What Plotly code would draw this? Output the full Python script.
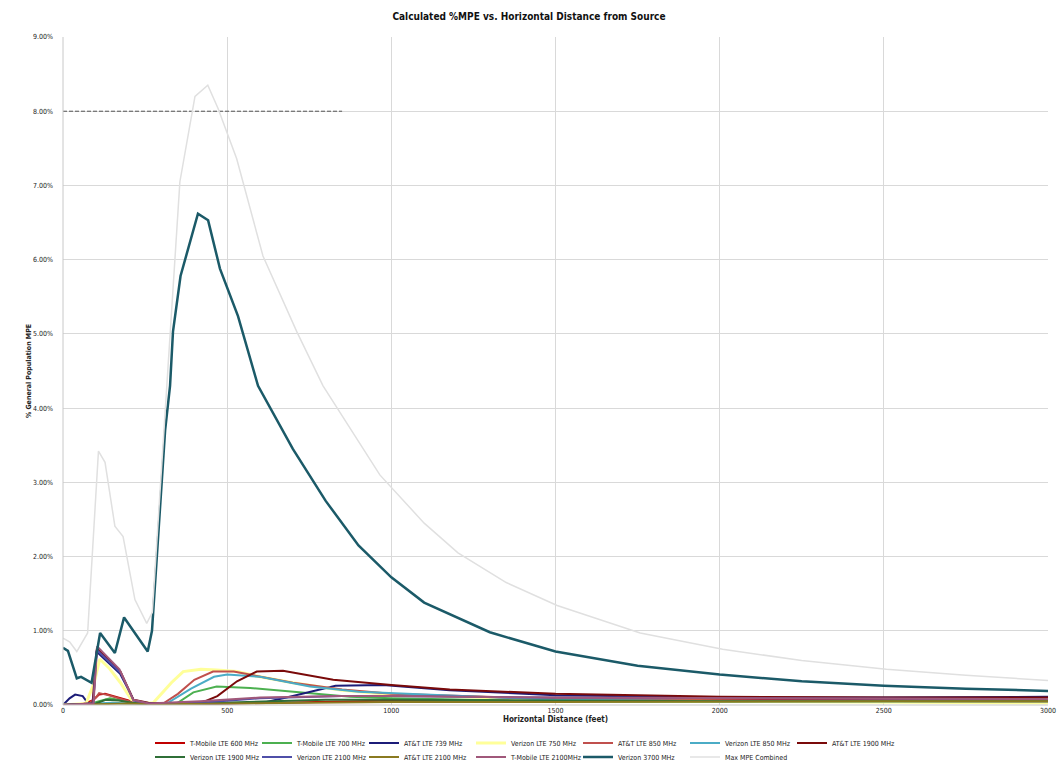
import plotly.graph_objects as go

# ---------------- data (distance in feet, % of general population MPE) ----------------
series_names = [
    "T-Mobile LTE 600 MHz", "T-Mobile LTE 700 MHz", "AT&T LTE 739 MHz", "Verizon LTE 750 MHz",
    "AT&T LTE 850 MHz", "Verizon LTE 850 MHz", "AT&T LTE 1900 MHz",
    "Verizon LTE 1900 MHz", "Verizon LTE 2100 MHz", "AT&T LTE 2100 MHz",
    "T-Mobile LTE 2100MHz", "Verizon 3700 MHz", "Max MPE Combined",
]

dist_tmo600 = [0, 60, 90, 110, 128, 160, 200, 240, 300, 400, 500, 600, 800, 1000, 1500, 2000, 2500, 3000]
mpe_tmo600 = [0.0, 0.01, 0.06, 0.14, 0.15, 0.11, 0.06, 0.03, 0.01, 0.01, 0.02, 0.03, 0.05, 0.06, 0.07, 0.08, 0.09, 0.09]

dist_tmo700 = [0, 80, 110, 143, 180, 220, 300, 346, 397, 468, 570, 691, 874, 1000, 1331, 1500, 2000, 2500, 3000]
mpe_tmo700 = [0.0, 0.01, 0.05, 0.09, 0.06, 0.03, 0.01, 0.02, 0.17, 0.25, 0.23, 0.18, 0.11, 0.09, 0.06, 0.05, 0.04, 0.04, 0.04]

dist_att739 = [0, 20, 37, 60, 75, 92, 102, 130, 174, 200, 215, 240, 300, 450, 610, 700, 830, 975, 1178, 1500, 2000, 2500, 3000]
mpe_att739 = [0.0, 0.09, 0.14, 0.12, 0.03, 0.02, 0.72, 0.6, 0.42, 0.2, 0.06, 0.03, 0.02, 0.02, 0.03, 0.12, 0.26, 0.27, 0.2, 0.13, 0.1, 0.1, 0.11]

dist_vzw750 = [0, 70, 95, 112, 140, 175, 210, 240, 275, 330, 366, 420, 468, 530, 600, 700, 850, 1000, 1500, 2000, 3000]
mpe_vzw750 = [0.0, 0.02, 0.3, 0.62, 0.5, 0.3, 0.06, 0.02, 0.03, 0.3, 0.45, 0.48, 0.47, 0.45, 0.38, 0.3, 0.2, 0.14, 0.07, 0.05, 0.03]

dist_att850 = [0, 80, 100, 110, 140, 175, 215, 260, 305, 350, 400, 457, 520, 580, 700, 850, 1000, 1500, 2000, 3000]
mpe_att850 = [0.0, 0.02, 0.1, 0.16, 0.13, 0.08, 0.03, 0.02, 0.02, 0.15, 0.34, 0.45, 0.45, 0.4, 0.3, 0.21, 0.15, 0.08, 0.06, 0.05]

dist_vzw850 = [0, 100, 150, 200, 260, 316, 390, 460, 500, 600, 752, 900, 1000, 1300, 1500, 2000, 3000]
mpe_vzw850 = [0.0, 0.02, 0.03, 0.02, 0.01, 0.02, 0.22, 0.38, 0.41, 0.38, 0.25, 0.18, 0.16, 0.1, 0.07, 0.05, 0.05]

dist_att1900 = [0, 90, 103, 140, 175, 215, 260, 417, 470, 530, 590, 670, 750, 823, 1000, 1178, 1500, 2000, 2500, 3000]
mpe_att1900 = [0.0, 0.02, 0.76, 0.6, 0.45, 0.07, 0.03, 0.02, 0.12, 0.32, 0.45, 0.46, 0.4, 0.34, 0.27, 0.21, 0.15, 0.11, 0.1, 0.1]

dist_vzw1900 = [0, 100, 130, 170, 210, 260, 400, 600, 800, 1000, 1500, 2000, 2500, 3000]
mpe_vzw1900 = [0.0, 0.02, 0.07, 0.06, 0.03, 0.01, 0.02, 0.05, 0.07, 0.07, 0.06, 0.05, 0.05, 0.05]

dist_vzw2100 = [0, 92, 103, 140, 176, 215, 260, 420, 600, 850, 1000, 1500, 2000, 2200, 2500, 3000]
mpe_vzw2100 = [0.0, 0.02, 0.74, 0.58, 0.43, 0.06, 0.02, 0.03, 0.09, 0.12, 0.12, 0.1, 0.09, 0.09, 0.08, 0.08]

dist_att2100 = [0, 100, 200, 300, 500, 800, 1000, 1500, 2000, 2500, 3000]
mpe_att2100 = [0.0, 0.01, 0.02, 0.01, 0.02, 0.03, 0.04, 0.04, 0.05, 0.05, 0.05]

dist_tmo2100 = [0, 93, 104, 140, 172, 214, 260, 417, 600, 850, 1000, 1500, 2000, 2500, 3000]
mpe_tmo2100 = [0.0, 0.02, 0.79, 0.63, 0.48, 0.07, 0.02, 0.05, 0.1, 0.12, 0.12, 0.1, 0.09, 0.08, 0.08]

dist_vzw3700 = [0, 15, 42, 55, 87, 113, 158, 186, 258, 271, 311, 326, 335, 358, 411, 442, 478, 533, 594,
                700, 800, 900, 1000, 1100, 1300, 1500, 1750, 2000, 2250, 2500, 2750, 3000]
mpe_vzw3700 = [0.77, 0.73, 0.36, 0.38, 0.30, 0.97, 0.70, 1.18, 0.72, 1.0, 3.7, 4.3, 5.03, 5.78, 6.62, 6.53, 5.88, 5.24, 4.3,
               3.45, 2.75, 2.15, 1.72, 1.38, 0.98, 0.72, 0.53, 0.41, 0.32, 0.26, 0.22, 0.19]

dist_max = [0, 20, 42, 75, 108, 128, 158, 183, 219, 255, 272, 316, 356, 402, 441, 472, 529, 609, 712, 792,
            965, 1100, 1203, 1350, 1505, 1758, 2009, 2250, 2508, 2750, 3000]
mpe_max = [0.9, 0.85, 0.72, 0.97, 3.42, 3.27, 2.41, 2.27, 1.42, 1.1, 1.25, 4.3, 7.05, 8.2, 8.35, 8.04, 7.36, 6.05, 5.03, 4.3,
           3.1, 2.45, 2.05, 1.65, 1.34, 0.97, 0.75, 0.6, 0.48, 0.4, 0.33]

# dashed reference line seen at 8 % on the left part of the chart
ref_line_pct = 8.0
ref_line_dist = [0, 850]

x_ticks = [0, 500, 1000, 1500, 2000, 2500, 3000]
y_ticks = [0, 1, 2, 3, 4, 5, 6, 7, 8, 9]
y_tick_labels = ["0.00%", "1.00%", "2.00%", "3.00%", "4.00%", "5.00%", "6.00%", "7.00%", "8.00%", "9.00%"]

# ---------------- styling ----------------
colors = ["#c00000", "#4cb050", "#1c1c78", "#ffff99", "#c0504d", "#4bacc6", "#7a0a0a",
          "#2f6f37", "#4f4fa8", "#8a7a20", "#a0587a", "#1b5a68", "#e0e0e0"]
widths = [2, 2, 2, 3, 2, 2, 2, 2, 2, 2, 2, 2.5, 1.5]

xs = [dist_tmo600, dist_tmo700, dist_att739, dist_vzw750, dist_att850, dist_vzw850, dist_att1900,
      dist_vzw1900, dist_vzw2100, dist_att2100, dist_tmo2100, dist_vzw3700, dist_max]
ys = [mpe_tmo600, mpe_tmo700, mpe_att739, mpe_vzw750, mpe_att850, mpe_vzw850, mpe_att1900,
      mpe_vzw1900, mpe_vzw2100, mpe_att2100, mpe_tmo2100, mpe_vzw3700, mpe_max]

FONT = "Liberation Sans Narrow, Arial Narrow, DejaVu Sans Condensed, sans-serif"

fig = go.Figure()
fig.add_trace(go.Scatter(x=ref_line_dist, y=[ref_line_pct, ref_line_pct], mode="lines",
                         line=dict(color="#555555", width=1, dash="4px,2px"),
                         showlegend=False, hoverinfo="skip"))
for i, (name, x, y) in enumerate(zip(series_names, xs, ys)):
    fig.add_trace(go.Scatter(
        x=x, y=y, name=name, mode="lines",
        line=dict(color=colors[i], width=widths[i]),
        legend="legend" if i < 7 else "legend2",
    ))

legend_common = dict(orientation="h", xanchor="left", yanchor="middle",
                     font=dict(family=FONT, size=7, color="#222222"),
                     itemwidth=30, entrywidth=62, entrywidthmode="pixels",
                     bgcolor="rgba(0,0,0,0)", traceorder="normal")

fig.update_layout(
    width=1058, height=770,
    margin=dict(l=63, r=10, t=37, b=65, autoexpand=False),
    paper_bgcolor="white", plot_bgcolor="white",
    title=dict(text="<b>Calculated %MPE vs. Horizontal Distance from Source</b>",
               x=0.5, xanchor="center", y=0.978, yanchor="middle",
               font=dict(family=FONT, size=10, color="#111111")),
    xaxis=dict(range=[0, 3000], tickvals=x_ticks, showgrid=True, gridcolor="#d9d9d9", gridwidth=1,
               zeroline=False, showline=False, ticks="", automargin=False,
               tickfont=dict(family=FONT, size=7, color="#222222"),
               title=dict(text="<b>Horizontal Distance (feet)</b>", standoff=2,
                          font=dict(family=FONT, size=8, color="#222222"))),
    yaxis=dict(range=[0, 9], tickvals=y_ticks, ticktext=y_tick_labels,
               showgrid=True, gridcolor="#d9d9d9", gridwidth=1, zeroline=False, showline=False, ticks="",
               ticklabelstandoff=9, automargin=False,
               tickfont=dict(family=FONT, size=7, color="#222222"),
               title=dict(text="<b>% General Population MPE</b>", standoff=0,
                          font=dict(family=FONT, size=7, color="#222222"))),
    legend=dict(x=(150 - 63) / 985, y=-0.057, **legend_common),
    legend2=dict(x=(150 - 63) / 985, y=-0.078, **legend_common),
    shapes=[dict(type="line", xref="paper", yref="paper", x0=0, x1=0, y0=0, y1=1,
                 line=dict(color="#c8c8c8", width=1)),
            dict(type="line", xref="paper", yref="paper", x0=0, x1=1, y0=0, y1=0,
                 line=dict(color="#c8c8c8", width=1))],
)

# remove the browser's default page margin so the 1058x770 figure fills the window exactly
fig.write_html("out.html", config={"displayModeBar": False},
               post_script="document.body.style.margin='0';document.body.style.overflow='hidden';")
